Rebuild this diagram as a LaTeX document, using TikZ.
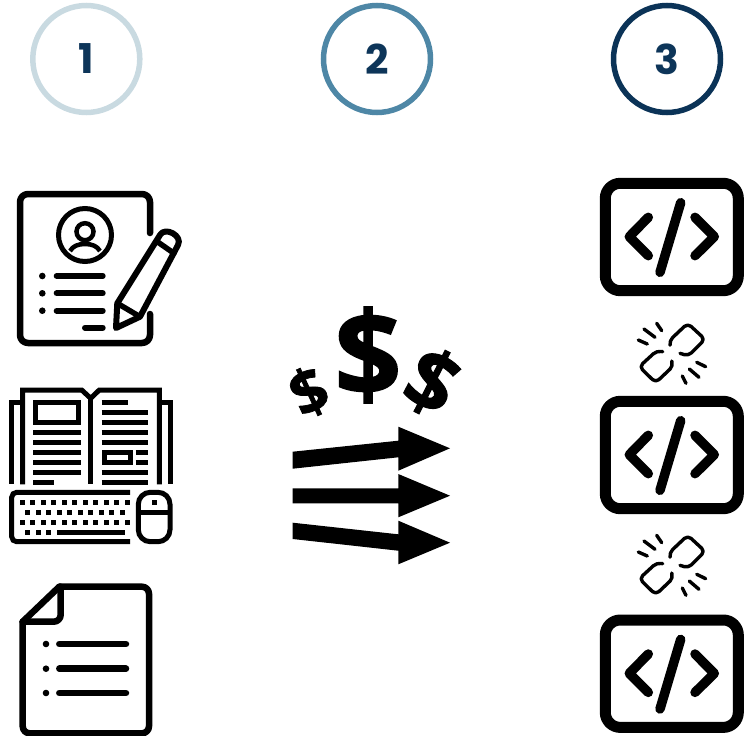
\documentclass[tikz,border=0pt]{standalone}
\usepackage{fontspec}
\newfontfamily\numfont{Poppins}
\newfontfamily\moneyfont[BoldFeatures={FakeBold=1.2}]{Open Sans}
\definecolor{navy}{HTML}{0D3559}
\definecolor{ringa}{HTML}{C9DAE1}
\definecolor{ringb}{HTML}{4E87A6}
\definecolor{ringc}{HTML}{0B3357}
\tikzset{
  ring/.style={circle,draw=#1,line width=5.5pt,minimum size=107pt,inner sep=0pt,text=navy,font=\numfont\bfseries\fontsize{41}{41}\selectfont},
  rnd/.style={line width=#1,line cap=round,line join=round},
  sq/.style={line width=5pt,line cap=butt,line join=miter},
  money/.style={inner sep=0pt},
  bigarrow/.style={fill=black,draw=none},
  codeicon/.pic={
    \draw[rnd=11pt,rounded corners=15pt] (-66.4,-53.7) rectangle (66.6,53.7);
    \draw[rnd=9.5pt] (-23.4,-19.7) -- (-42.4,-0.3) -- (-23.4,18.7);
    \draw[rnd=9.5pt] (23.3,-19.7) -- (42.6,-0.3) -- (23.3,18.7);
    \draw[rnd=9.5pt] (9,-34.3) -- (-11.7,35.3);
  },
  linkicon/.pic={
    \draw[rnd=3.4pt,rounded corners=4.5pt] (1,-7) -- (0.3,-11.3) -- (18.7,-28.7) -- (36,-12.7) -- (19.3,4) -- (11,1.3);
    \draw[rnd=3.4pt,rounded corners=4.5pt] (-6.3,-0.3) -- (-12.3,-1.3) -- (-29.7,14.7) -- (-13.3,30.7) -- (4.3,14) -- (2.7,9);
    \draw[rnd=3.4pt] (-30.7,-12) -- (-21.7,-8) (-25,-23) -- (-14,-14.7) (-12.3,-28.7) -- (-7.3,-21.3);
    \draw[rnd=3.4pt] (27.7,10.3) -- (36.7,14.7) (20.3,17) -- (30,25.3) (13.3,24) -- (17,31.3);
  }
}
\begin{document}
\begin{tikzpicture}[x=1pt,y=-1pt]
\useasboundingbox (0,0) rectangle (750,736);
% numbered rings
\node[ring=ringa] (one) at (86.3,59) {1};
\node[ring=ringb] (two) at (377,59) {2};
\node[ring=ringc] (three) at (667,59) {3};
% resume icon
\draw[rnd=6.5pt,rounded corners=8pt] (150,233) -- (150,194) -- (20,194) -- (20,343) -- (150,343) -- (150,314);
\draw[line width=5pt] (85,235) circle (26.5);
\draw[line width=4.5pt] (85,231.7) circle (8.5);
\draw[line width=4.5pt] (70,251) .. controls (73,246) and (78,244) .. (85,244) .. controls (92,244) and (97,246) .. (100,251);
\foreach \yy in {276,293.3,310.7} {
  \fill (42.3,\yy) circle (3.3);
  \draw[rnd=6pt] (56.7,\yy) -- (102.7,\yy);
}
\draw[rnd=6pt] (85,327.7) -- (102.7,327.7);
\draw[rnd=6pt] (116,328) -- (117.3,303.3) -- (160,235) .. controls (165,226) and (183,236) .. (178,245) -- (140,316.7) -- cycle;
\draw[rnd=5.5pt] (157.3,241.7) -- (174,253.3);
\draw[rnd=5.5pt] (117.3,303.3) -- (140,316.7);
% book and keyboard icon
\draw[sq] (22.7,484.3) -- (22.7,390) -- (81.7,390) -- (90.7,398.3) -- (99.3,390) -- (159.3,390) -- (159.3,484.3);
\draw[sq] (22.7,402) -- (11.7,402) -- (11.7,484.3);
\draw[sq] (159.3,402) -- (170,402) -- (170,484.3);
\draw[sq] (90.7,398.3) -- (90.7,484.3);
\draw[sq] (35.7,402.3) rectangle (78.3,422.7);
\foreach \yy in {432.3,442.3,452.3,462.3,472.3} \draw[sq] (33.3,\yy) -- (80.7,\yy);
\draw[sq] (33.3,482.3) -- (54.3,482.3);
\draw[sq] (101.7,402.3) -- (127.7,402.3);
\foreach \yy in {412.3,422.3,432.3,442.3,472.3,482.3} \draw[sq] (101.7,\yy) -- (148.3,\yy);
\draw[sq] (104,452.3) rectangle (130,462.3);
\foreach \yy in {452.3,462.3} \draw[sq] (135.7,\yy) -- (148.3,\yy);
\draw[sq,rounded corners=5pt] (130,492.3) -- (11.7,492.3) -- (11.7,541.7) -- (130,541.7);
\foreach \n in {0,...,10} {
  \fill (22.3+10.5*\n-2.5,499.5) rectangle ++(5,5);
  \fill (22.3+10.5*\n-2.5,519.5) rectangle ++(5,5);
}
\foreach \n in {0,...,9} \fill (27.7+10.5*\n-2.5,509.5) rectangle ++(5,5);
\foreach \n in {0,1,2} \fill (27.7+10.5*\n-2.5,529.5) rectangle ++(5,5);
\fill (56.7,529.5) rectangle (125,534.5);
\draw[line width=5pt,rounded corners=12pt] (138.3,492.3) rectangle (170,541.7);
\draw[line width=5pt] (138.3,512) -- (170,512);
\fill (151.5,499.5) rectangle ++(5,5);
% document icon
\draw[rnd=6.5pt,rounded corners=7pt] (59.3,586.7) -- (149,586.7) -- (149,733.3) -- (22.7,733.3) -- (22.7,621.7);
\draw[rnd=6.5pt] (22.7,621.7) -- (59.3,586.7);
\draw[rnd=6.5pt,rounded corners=7pt] (60.7,586.7) -- (60.7,621.7) -- (22.7,621.7);
\foreach \yy in {644,668.7,693} {
  \fill (46,\yy) circle (3.3);
  \draw[rnd=6.5pt] (59.3,\yy) -- (126,\yy);
}
% money
\node[money,font=\moneyfont\bfseries\fontsize{118}{118}\selectfont] (dollarbig) at (368,355) {\$};
\node[money,font=\moneyfont\bfseries\fontsize{62}{62}\selectfont,rotate=25] (dollarleft) at (309,392) {\$};
\node[money,font=\moneyfont\bfseries\fontsize{84}{84}\selectfont,rotate=-27] (dollarright) at (432,382) {\$};
% arrows
\fill[bigarrow] (292.7,451.7) -- (398.3,440.7) -- (398.3,426.7) -- (450,448.3) -- (398.3,470.7) -- (398.3,457.3) -- (292.7,468.7) -- cycle;
\fill[bigarrow] (292.7,488.3) -- (398.3,488.3) -- (398.3,474) -- (450,495.7) -- (398.3,517.3) -- (398.3,503.3) -- (292.7,503.3) -- cycle;
\fill[bigarrow] (292.7,522.7) -- (398.3,534.3) -- (398.3,520.7) -- (450,542.7) -- (398.3,564.3) -- (398.3,550.7) -- (292.7,539) -- cycle;
% code icons and broken links
\pic at (671.7,237) {codeicon};
\pic at (671.7,455) {codeicon};
\pic at (671.7,673.7) {codeicon};
\pic at (669,352) {linkicon};
\pic at (669,564) {linkicon};
\end{tikzpicture}
\end{document}
